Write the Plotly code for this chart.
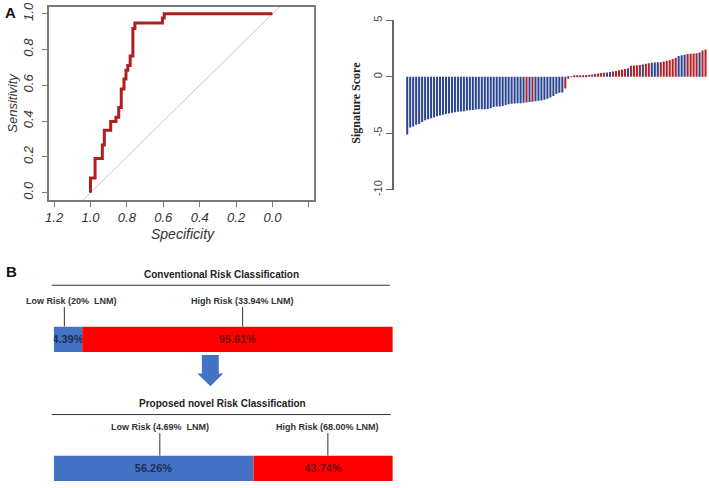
import plotly.graph_objects as go

W, H = 709, 488

# ---------------- data ----------------
# ROC curve corner points (specificity, sensitivity)
roc_spec = [1.0, 0.975, 0.935, 0.924, 0.889, 0.86, 0.845, 0.831, 0.816, 0.805,
            0.795, 0.782, 0.767, 0.756, 0.605, 0.595, 0.0]
roc_sens = [0.0, 0.082, 0.191, 0.267, 0.349, 0.398, 0.422, 0.476, 0.58, 0.635,
            0.685, 0.711, 0.764, 0.918, 0.949, 0.976, 1.0]
roc_xticks = [1.2, 1.0, 0.8, 0.6, 0.4, 0.2, 0.0, -0.2]
roc_xticktext = ["1.2", "1.0", "0.8", "0.6", "0.4", "0.2", "0.0", ""]
roc_yticks = [0.0, 0.2, 0.4, 0.6, 0.8, 1.0]
roc_yticktext = ["0.0", "0.2", "0.4", "0.6", "0.8", "1.0"]

# Signature scores (sorted), and status (R = LNM positive -> red, B = blue)
neg_scores = [-5.11, -4.48, -4.4, -4.25, -4.17, -4.0, -3.85, -3.76, -3.68, -3.6,
              -3.5, -3.42, -3.36, -3.3, -3.25, -3.19, -3.13, -3.1, -3.07, -3.05,
              -2.99, -2.96, -2.93, -2.9, -2.87, -2.87, -2.87, -2.85, -2.79, -2.67,
              -2.62, -2.62, -2.59, -2.5, -2.44, -2.39, -2.36, -2.33, -2.33, -2.3,
              -2.27, -2.24, -2.21, -2.16, -2.13, -2.1, -2.04, -1.95, -1.84, -1.7,
              -1.52, -1.41, -1.38, -1.03, -0.17, 0.01]
neg_status = ["B"] * 40 + ["R", "B", "R"] + ["B"] * 10 + ["R", "B", "R"]
pos_scores = [0.05, 0.07, 0.09, 0.12, 0.15, 0.18, 0.2, 0.24, 0.3, 0.34,
              0.36, 0.38, 0.42, 0.48, 0.52, 0.58, 0.65, 0.7, 0.75, 0.98,
              1.0, 1.02, 1.05, 1.1, 1.15, 1.2, 1.24, 1.26, 1.28, 1.3,
              1.35, 1.42, 1.5, 1.58, 1.68, 1.85, 1.9, 1.96, 2.02, 2.04,
              2.06, 2.08, 2.15, 2.32, 2.42]
pos_status = (["R"] * 3 + ["B"] + ["R"] * 3 + ["B"] + ["R"] * 3 + ["B"] * 2 +
              ["R"] * 5 + ["B"] + ["R"] * 4 + ["B"] + ["R"] * 2 + ["B"] * 3 +
              ["R"] * 6 + ["B"] * 3 + ["R"] * 4 + ["B"] + ["R"] * 2)
sig_yticks = [-10, -5, 0, 5]
sig_yticktext = ["-10", "-5", "0", "5"]

# Panel B: drawn segment widths and labels
risk_rows = ["Conventional Risk Classification", "Proposed novel Risk Classification"]
low_width = [8.4, 58.9]
high_width = [91.6, 41.1]
low_label = ["4.39%", "56.26%"]
high_label = ["95.61%", "43.74%"]
low_group = ["Low Risk (20%\u00a0 LNM)", "Low Risk (4.69%\u00a0 LNM)"]
high_group = ["High Risk (33.94% LNM)", "High Risk (68.00% LNM)"]

# ---------------- helpers ----------------
def px(x):
    return x / W

def py(y):
    return 1 - y / H

FONT = "Liberation Sans, Arial, sans-serif"
BLUE_DARK = "#2B4592"
RED_DARK = "#B3202A"

fig = go.Figure()

# ---- Panel A left: ROC ----
fig.add_trace(go.Scatter(x=[1.3, -0.3], y=[-0.3, 1.3], mode="lines",
                         line=dict(color="#C8C8C8", width=1), xaxis="x", yaxis="y",
                         hoverinfo="skip"))
fig.add_trace(go.Scatter(x=roc_spec, y=roc_sens, mode="lines",
                         line=dict(color="#B01E1E", width=3, shape="vh"),
                         xaxis="x", yaxis="y"))

# ---- Panel A right: waterfall ----
scores = neg_scores + pos_scores
status = neg_status + pos_status
colors = [RED_DARK if s == "R" else BLUE_DARK for s in status]
fig.add_trace(go.Bar(x=list(range(len(scores))), y=scores, marker=dict(color=colors, line=dict(width=0)),
                     width=0.68, xaxis="x2", yaxis="y2"))

# ---- Panel B bars ----
yaxes = ["y3", "y4"]
for k in range(2):
    fig.add_trace(go.Bar(y=[0], x=[low_width[k]], base=[0], orientation="h", width=1,
                         marker=dict(color="#4472C4", line=dict(width=0)),
                         text=[low_label[k]], textposition="inside", insidetextanchor="middle",
                         textangle=0, constraintext="none",
                         textfont=dict(family=FONT, size=11, color="#1F2D55", weight="bold"),
                         xaxis="x3", yaxis=yaxes[k]))
    fig.add_trace(go.Bar(y=[0], x=[high_width[k]], base=[low_width[k]], orientation="h", width=1,
                         marker=dict(color="#FF0000", line=dict(width=0)),
                         text=[high_label[k]], textposition="inside", insidetextanchor="middle",
                         textangle=0, constraintext="none",
                         textfont=dict(family=FONT, size=11, color="#7A0A0A", weight="bold"),
                         xaxis="x3", yaxis=yaxes[k]))

grey = "#7A7A7A"
fig.update_layout(
    width=W, height=H, margin=dict(l=0, r=0, t=0, b=0),
    paper_bgcolor="white", plot_bgcolor="white", showlegend=False,
    barmode="overlay",
    xaxis=dict(domain=[px(45), px(312)], range=[1.2295, -0.2295], showgrid=False, zeroline=False,
               showline=True, mirror=True, linecolor=grey, linewidth=1.5,
               ticks="outside", ticklen=5, tickcolor=grey, tickwidth=1.2,
               tickvals=roc_xticks, ticktext=roc_xticktext,
               tickfont=dict(family=FONT, size=13, color="#333333", style="italic"),
               anchor="y"),
    yaxis=dict(domain=[py(199.3), py(1.7)], range=[-0.04, 1.04], showgrid=False, zeroline=False,
               showline=True, mirror=True, linecolor=grey, linewidth=1.5,
               ticks="outside", ticklen=5, tickcolor=grey, tickwidth=1.2,
               tickvals=roc_yticks, ticktext=roc_yticktext, tickangle=-90,
               ticklabelstandoff=4,
               tickfont=dict(family=FONT, size=13, color="#333333", style="italic"),
               anchor="x"),
    xaxis2=dict(domain=[px(392), 1.0], range=[-4.5, 101.17], visible=False, anchor="y2"),
    yaxis2=dict(domain=[py(189), py(15.7)], range=[-10, 5], showgrid=False, zeroline=False,
                showline=True, linecolor="#666666", linewidth=1.5,
                ticks="outside", ticklen=6, tickcolor="#666666", tickwidth=1.2,
                tickvals=sig_yticks, ticktext=sig_yticktext, tickangle=-90,
                tickfont=dict(family=FONT, size=11, color="#444444"),
                anchor="x2"),
    xaxis3=dict(domain=[px(50), px(391)], range=[0, 100], visible=False, anchor="y3"),
    yaxis3=dict(domain=[py(355), py(329)], range=[-0.5, 0.5], visible=False, anchor="x3"),
    yaxis4=dict(domain=[py(487), py(461)], range=[-0.5, 0.5], visible=False, anchor="x3"),
)

ann = []
def text(x, y, s, size, bold=False, italic=False, angle=0, family=FONT, color="#222222"):
    ann.append(dict(x=px(x), y=py(y), xref="paper", yref="paper", text=s, showarrow=False,
                    xanchor="center", yanchor="middle", textangle=angle,
                    font=dict(family=family, size=size, color=color,
                              weight="bold" if bold else "normal",
                              style="italic" if italic else "normal")))

text(7, 8, "A", 15, bold=True, color="#111111")
text(9, 100, "Sensitivity", 13, italic=True, angle=-90, color="#333333")
text(180, 234, "Specificity", 14, italic=True, color="#333333")
text(354, 100, "Signature Score", 12, bold=True, angle=-90,
     family="Liberation Serif, Times New Roman, serif", color="#222222")

text(8, 273, "B", 15, bold=True, color="#111111")
text(219, 276, risk_rows[0], 10, bold=True)
text(67.5, 303, low_group[0], 9, bold=True, color="#333333")
text(239.5, 303, high_group[0], 9, bold=True, color="#333333")
text(220, 408, risk_rows[1], 10, bold=True)
text(157, 432, low_group[1], 9, bold=True, color="#333333")
text(325, 432, high_group[1], 9, bold=True, color="#333333")

shapes = []
def line(x0, y0, x1, y1, w=1, c="#333333"):
    shapes.append(dict(type="line", xref="paper", yref="paper", x0=px(x0), y0=py(y0),
                       x1=px(x1), y1=py(y1), line=dict(color=c, width=w)))

line(48, 286.7, 388, 286.7)
line(60.7, 309, 60.7, 329)
line(240, 309, 240, 329)
line(48, 419, 389, 419)
line(156.7, 438, 156.7, 461)
line(325.7, 438, 325.7, 461)

arrow = [(199, 358), (216, 358), (216, 377), (220.5, 377), (207.5, 390), (194.5, 377), (199, 377)]
path = "M " + " L ".join(f"{px(a):.5f},{py(b):.5f}" for a, b in arrow) + " Z"
shapes.append(dict(type="path", xref="paper", yref="paper", path=path,
                   fillcolor="#4472C4", line=dict(width=0)))

fig.update_layout(annotations=ann, shapes=shapes)
fig.write_html("out.html", config={"displayModeBar": False},
               post_script="document.body.style.margin='0px';")
